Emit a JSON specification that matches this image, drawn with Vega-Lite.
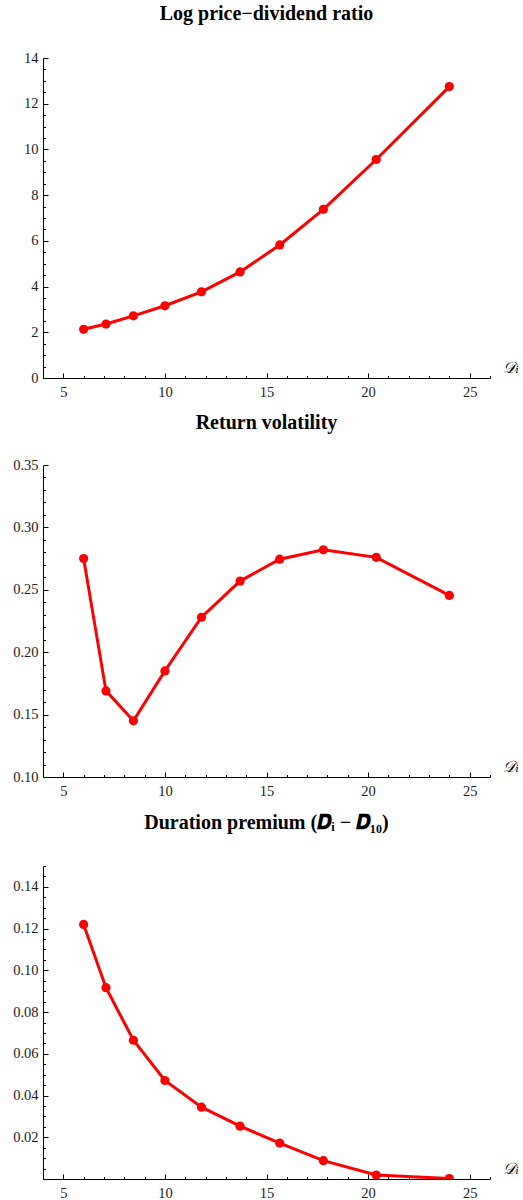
{
  "$schema": "https://vega.github.io/schema/vega-lite/v6.json",
  "padding": {"left": 12, "top": 4, "right": 0, "bottom": 0},
  "background": "white",
  "spacing": 14,
  "columns": 1,
  "datasets": {
    "pts": [
      {"D": 6.0, "pd": 2.13, "vol": 0.275, "prem": 0.122},
      {"D": 7.1, "pd": 2.36, "vol": 0.169, "prem": 0.0917},
      {"D": 8.45, "pd": 2.72, "vol": 0.145, "prem": 0.0665},
      {"D": 10.0, "pd": 3.16, "vol": 0.185, "prem": 0.0472},
      {"D": 11.8, "pd": 3.77, "vol": 0.228, "prem": 0.0344},
      {"D": 13.7, "pd": 4.64, "vol": 0.257, "prem": 0.0253},
      {"D": 15.65, "pd": 5.82, "vol": 0.2745, "prem": 0.0172},
      {"D": 17.8, "pd": 7.38, "vol": 0.282, "prem": 0.0088},
      {"D": 20.4, "pd": 9.56, "vol": 0.276, "prem": 0.0019},
      {"D": 24.0, "pd": 12.75, "vol": 0.2455, "prem": 0.0002}
    ]
  },
  "data": {"name": "pts"},
  "config": {
    "view": {"stroke": null},
    "font": "Liberation Serif",
    "axis": {
      "grid": false,
      "domainColor": "black",
      "domainWidth": 1,
      "tickColor": "black",
      "labelFont": "Liberation Serif",
      "labelFontSize": 14.5,
      "labelColor": "#222",
      "labelPadding": 10
    },
    "axisX": {"labelPadding": 12},
    "axisY": {"minExtent": 0},
    "title": {
      "font": "Liberation Serif, DejaVu Serif",
      "fontSize": 20,
      "fontWeight": "bold",
      "color": "black",
      "anchor": "middle",
      "frame": "group"
    }
  },
  "bounds": "full",
  "concat": [
    {
      "width": 447,
      "height": 320,
      "title": {"text": "Log price−dividend ratio", "offset": 26},
      "encoding": {
        "x": {"field": "D", "type": "quantitative", "scale": {"domain": [4, 26], "nice": false, "zero": false}},
        "y": {"field": "pd", "type": "quantitative", "scale": {"domain": [0, 14], "nice": false}}
      },
      "layer": [
        {
          "mark": {"type": "line", "color": "#ff0000", "strokeWidth": 3},
          "encoding": {
            "x": {"field": "D", "type": "quantitative", "axis": {"values": [5, 10, 15, 20, 25], "tickSize": -5, "title": "𝒟ᵢ", "titleFont": "DejaVu Serif", "titleFontStyle": "italic", "titleFontWeight": "normal", "titleFontSize": 16, "titleAngle": 0, "titleAlign": "left", "titleBaseline": "alphabetic", "titleX": 459, "titleY": -6}},
            "y": {"field": "pd", "type": "quantitative", "axis": {"values": [0, 2, 4, 6, 8, 10, 12, 14], "tickSize": -5, "title": null}}
          }
        },
        {
          "mark": {"type": "point", "filled": true, "color": "#ff0000", "size": 85, "opacity": 1},
          "encoding": {
            "x": {"field": "D", "type": "quantitative", "axis": {"orient": "bottom", "values": [4, 6, 7, 8, 9, 11, 12, 13, 14, 16, 17, 18, 19, 21, 22, 23, 24, 26], "tickSize": -2.5, "labels": false, "labelPadding": 0, "domain": false, "title": null}},
            "y": {"field": "pd", "type": "quantitative", "axis": {"orient": "left", "values": [0.5, 1, 1.5, 2.5, 3, 3.5, 4.5, 5, 5.5, 6.5, 7, 7.5, 8.5, 9, 9.5, 10.5, 11, 11.5, 12.5, 13, 13.5], "tickSize": -2.5, "labels": false, "labelPadding": 0, "domain": false, "title": null}}
          }
        }
      ],
      "resolve": {"axis": {"x": "independent", "y": "independent"}}
    },
    {
      "width": 447,
      "height": 312,
      "title": {"text": "Return volatility", "offset": 24},
      "encoding": {
        "x": {"field": "D", "type": "quantitative", "scale": {"domain": [4, 26], "nice": false, "zero": false}},
        "y": {"field": "vol", "type": "quantitative", "scale": {"domain": [0.1, 0.35], "nice": false, "zero": false}}
      },
      "layer": [
        {
          "mark": {"type": "line", "color": "#ff0000", "strokeWidth": 3},
          "encoding": {
            "x": {"field": "D", "type": "quantitative", "axis": {"values": [5, 10, 15, 20, 25], "tickSize": -5, "title": "𝒟ᵢ", "titleFont": "DejaVu Serif", "titleFontStyle": "italic", "titleFontWeight": "normal", "titleFontSize": 16, "titleAngle": 0, "titleAlign": "left", "titleBaseline": "alphabetic", "titleX": 459, "titleY": -6}},
            "y": {"field": "vol", "type": "quantitative", "axis": {"values": [0.1, 0.15, 0.2, 0.25, 0.3, 0.35], "format": ".2f", "tickSize": -5, "title": null}}
          }
        },
        {
          "mark": {"type": "point", "filled": true, "color": "#ff0000", "size": 85, "opacity": 1},
          "encoding": {
            "x": {"field": "D", "type": "quantitative", "axis": {"orient": "bottom", "values": [4, 6, 7, 8, 9, 11, 12, 13, 14, 16, 17, 18, 19, 21, 22, 23, 24, 26], "tickSize": -2.5, "labels": false, "labelPadding": 0, "domain": false, "title": null}},
            "y": {"field": "vol", "type": "quantitative", "axis": {"orient": "left", "values": [0.11, 0.12, 0.13, 0.14, 0.16, 0.17, 0.18, 0.19, 0.21, 0.22, 0.23, 0.24, 0.26, 0.27, 0.28, 0.29, 0.31, 0.32, 0.33, 0.34], "tickSize": -2.5, "labels": false, "labelPadding": 0, "domain": false, "title": null}}
          }
        }
      ],
      "resolve": {"axis": {"x": "independent", "y": "independent"}}
    },
    {
      "width": 447,
      "height": 313,
      "title": {"text": "Duration premium (𝑫ᵢ − 𝑫₁₀)", "offset": 33},
      "encoding": {
        "x": {"field": "D", "type": "quantitative", "scale": {"domain": [4, 26], "nice": false, "zero": false}},
        "y": {"field": "prem", "type": "quantitative", "scale": {"domain": [0, 0.15], "nice": false}}
      },
      "layer": [
        {
          "mark": {"type": "line", "color": "#ff0000", "strokeWidth": 3, "clip": true},
          "encoding": {
            "x": {"field": "D", "type": "quantitative", "axis": {"values": [5, 10, 15, 20, 25], "tickSize": -5, "title": "𝒟ᵢ", "titleFont": "DejaVu Serif", "titleFontStyle": "italic", "titleFontWeight": "normal", "titleFontSize": 16, "titleAngle": 0, "titleAlign": "left", "titleBaseline": "alphabetic", "titleX": 459, "titleY": -6}},
            "y": {"field": "prem", "type": "quantitative", "axis": {"values": [0.02, 0.04, 0.06, 0.08, 0.1, 0.12, 0.14], "format": ".2f", "tickSize": -5, "title": null}}
          }
        },
        {
          "mark": {"type": "point", "filled": true, "color": "#ff0000", "size": 85, "opacity": 1, "clip": true},
          "encoding": {
            "x": {"field": "D", "type": "quantitative", "axis": {"orient": "bottom", "values": [4, 6, 7, 8, 9, 11, 12, 13, 14, 16, 17, 18, 19, 21, 22, 23, 24, 26], "tickSize": -2.5, "labels": false, "labelPadding": 0, "domain": false, "title": null}},
            "y": {"field": "prem", "type": "quantitative", "axis": {"orient": "left", "values": [0.005, 0.01, 0.015, 0.025, 0.03, 0.035, 0.045, 0.05, 0.055, 0.065, 0.07, 0.075, 0.085, 0.09, 0.095, 0.105, 0.11, 0.115, 0.125, 0.13, 0.135, 0.145, 0.15], "tickSize": -2.5, "labels": false, "labelPadding": 0, "domain": false, "title": null}}
          }
        }
      ],
      "resolve": {"axis": {"x": "independent", "y": "independent"}}
    }
  ]
}
